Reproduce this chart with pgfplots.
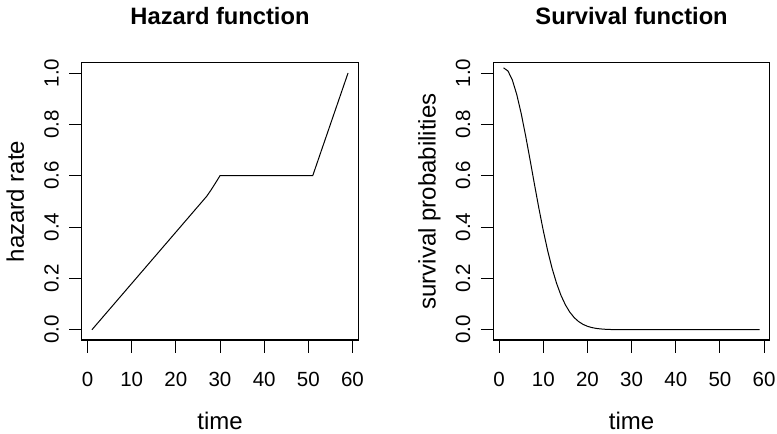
\documentclass[border=0pt]{standalone}
\usepackage{fontspec}
\setmainfont{Liberation Sans}
\usepackage{pgfplots}
\pgfplotsset{compat=1.18}
\pgfplotsset{
  rstyle/.style={
    width=276.6pt, height=277.3pt, scale only axis,
    xmin=-1.32, xmax=61.32, ymin=-0.04, ymax=1.04,
    xtick={0,10,20,30,40,50,60},
    xticklabels={0,10,20,30,40,50,60},
    ytick={0,0.2,0.4,0.6,0.8,1},
    yticklabels={0.0,0.2,0.4,0.6,0.8,1.0},
    xtick pos=left, ytick pos=left,
    tick align=outside, major tick length=12.5pt,
    tick style={line width=0.9pt, black},
    axis line style={line width=1.1pt},
    tick label style={font=\fontsize{20.5}{24}\selectfont, inner sep=0pt},
    xticklabel style={anchor=north},
    yticklabel style={rotate=90, anchor=south},
    xticklabel shift=19.8pt, yticklabel shift=10.2pt,
    title style={at={(axis description cs:0.5,1.1179)}, anchor=base, inner sep=0pt, font=\bfseries\fontsize{23.7}{28}\selectfont},
    xlabel style={at={(axis description cs:0.5,-0.321)}, anchor=base, inner sep=0pt, font=\fontsize{24}{28}\selectfont},
    ylabel style={at={(axis description cs:-0.2086,0.5)}, anchor=base, inner sep=0pt, font=\fontsize{24}{28}\selectfont},
    xlabel={time},
  }
}
\pgfplotstableread{
t h
1 0
26 0.50
27 0.52
28 0.545
29 0.572
30 0.6
51 0.6
59 1.0
}\hazard
\pgfplotstableread{
t s
1 1.02
2 1.0078
3 0.9722
4 0.9156
5 0.8418
6 0.7556
7 0.6622
8 0.5665
9 0.4732
10 0.3859
11 0.3072
12 0.2388
13 0.1812
14 0.1342
15 0.0971
16 0.0686
17 0.0473
18 0.0318
19 0.0209
20 0.0134
21 0.0084
22 0.0051
23 0.0031
24 0.0018
25 0.0010
26 0.0006
27 0.0003
28 0.0002
29 0.0001
30 0
59 0
}\surv
\begin{document}
\begin{tikzpicture}
\path[use as bounding box] (0,0) rectangle (777pt,434pt);
\begin{axis}[rstyle, at={(81.7pt,94pt)}, anchor=south west,
  title={Hazard function}, ylabel={hazard rate}]
\addplot[black, line width=1pt] table[x=t, y=h] {\hazard};
\end{axis}
\begin{axis}[rstyle, at={(493.3pt,94pt)}, anchor=south west,
  title={Survival function}, ylabel={survival probabilities}]
\addplot[black, line width=1pt] table[x=t, y=s] {\surv};
\end{axis}
\end{tikzpicture}
\end{document}
